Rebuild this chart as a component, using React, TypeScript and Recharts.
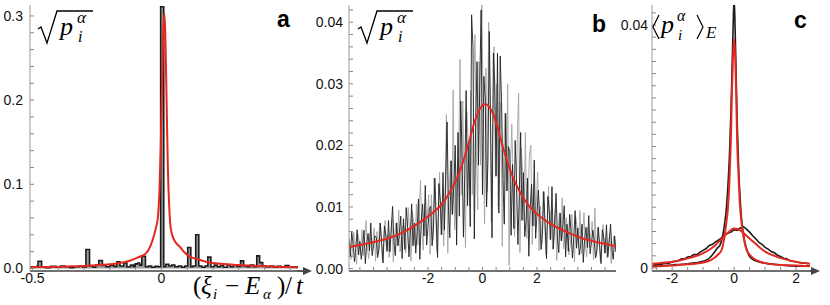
import React from 'react';
import { ComposedChart, Line, Area, XAxis, YAxis } from 'recharts';

// ---- panel a: histogram (step edges) + red fit ----
const A_HIST_X = [
  -0.51, -0.495, -0.483, -0.479, -0.465, -0.45, -0.43, -0.41, -0.39, -0.375, -0.355, -0.34, -0.32, -0.305,
  -0.293, -0.279, -0.265, -0.255, -0.243, -0.229, -0.215, -0.2, -0.185, -0.173, -0.161, -0.146, -0.134,
  -0.12, -0.108, -0.102, -0.092, -0.084, -0.076, -0.062, -0.05, -0.038, -0.025, -0.013, -0.003, 0.009,
  0.017, 0.029, 0.04, 0.052, 0.065, 0.078, 0.09, 0.102, 0.114, 0.122, 0.133, 0.145, 0.157, 0.169, 0.18,
  0.192, 0.205, 0.217, 0.229, 0.241, 0.255, 0.267, 0.28, 0.293, 0.307, 0.319, 0.333, 0.345, 0.358, 0.37,
  0.381, 0.393, 0.405, 0.42, 0.435, 0.45, 0.465, 0.48, 0.495, 0.51, 0.53,
];
const A_HIST_Y = [
  0.002, 0.0015, 0.0025, 0.0085, 0.002, 0.001, 0.0025, 0.0015, 0.003, 0.002, 0.001, 0.002, 0.003, 0.0015,
  0.0225, 0.003, 0.0015, 0.004, 0.0095, 0.0035, 0.002, 0.004, 0.0025, 0.008, 0.003, 0.0065, 0.002,
  0.004, 0.002, 0.0055, 0.0065, 0.004, 0.0145, 0.002, 0.003, 0.0015, 0.0025, 0.002, 0.311, 0.002,
  0.005, 0.003, 0.004, 0.002, 0.003, 0.0015, 0.003, 0.025, 0.002, 0.003, 0.04, 0.003, 0.0015, 0.003, 0.0135,
  0.002, 0.004, 0.002, 0.0035, 0.0015, 0.0045, 0.002, 0.004, 0.0025, 0.009, 0.003, 0.002, 0.004, 0.002, 0.015,
  0.007, 0.003, 0.002, 0.003, 0.0015, 0.0025, 0.002, 0.0035, 0.0015, 0.002, 0.002,
];
const A_FIT_X = [
  -0.51, -0.45, -0.4, -0.35, -0.3, -0.25, -0.2, -0.15, -0.12, -0.1, -0.08, -0.066, -0.05, -0.034, -0.02,
  -0.014, -0.008, -0.003, 0.002, 0.007, 0.011, 0.015, 0.02, 0.025, 0.03, 0.036, 0.045, 0.055, 0.071, 0.09,
  0.11, 0.14, 0.18, 0.23, 0.3, 0.37, 0.45, 0.53,
];
const A_FIT_Y = [
  0.0015, 0.0018, 0.002, 0.0025, 0.003, 0.0038, 0.005, 0.007, 0.0095, 0.012, 0.0145, 0.0166, 0.022, 0.034, 0.05,
  0.06, 0.09, 0.14, 0.21, 0.28, 0.303, 0.28, 0.2, 0.12, 0.075, 0.048, 0.037, 0.031, 0.026, 0.019,
  0.014, 0.011, 0.0075, 0.0055, 0.004, 0.003, 0.002, 0.0015,
];

// ---- panel b: two noisy traces (black, grey) + red fit ----
const B_START = -4.9;
const B_STEP = 0.05;
const B_BLACK = [
  0.0048, 0.0019, 0.0059, 0.0041, 0.0011, 0.0033, 0.0063, 0.0022, 0.0044, 0.0015,
  0.0033, 0.0062, 0.0008, 0.0041, 0.0057, 0.0029, 0.0074, 0.0021, 0.0037, 0.0053,
  0.0051, 0.0018, 0.0032, 0.0074, 0.0041, 0.0009, 0.0069, 0.0055, 0.0028, 0.0078,
  0.0027, 0.0064, 0.0101, 0.0042, 0.0021, 0.0074, 0.0037, 0.0058, 0.0085, 0.0016,
  0.0081, 0.0031, 0.0099, 0.0068, 0.0019, 0.0056, 0.0105, 0.0037, 0.0074, 0.0025,
  0.006, 0.0113, 0.0015, 0.0075, 0.0105, 0.0053, 0.0135, 0.0038, 0.0068, 0.0098,
  0.0101, 0.0037, 0.0064, 0.0147, 0.0083, 0.0018, 0.0138, 0.011, 0.0055, 0.0156,
  0.0063, 0.015, 0.0238, 0.01, 0.005, 0.0175, 0.0088, 0.0138, 0.02, 0.0038,
  0.0221, 0.0085, 0.0272, 0.0187, 0.0051, 0.0153, 0.0289, 0.0102, 0.0204, 0.0068,
  0.0412, 0.036, 0.0048, 0.024, 0.0336, 0.0168, 0.03, 0.042, 0.012, 0.0312,
  0.0275, 0.01, 0.0175, 0.0385, 0.0225, 0.005, 0.035, 0.03, 0.015, 0.035,
  0.009, 0.0345, 0.027, 0.0144, 0.0072, 0.0252, 0.0126, 0.0198, 0.019, 0.0054,
  0.0169, 0.0065, 0.0208, 0.0143, 0.0039, 0.0117, 0.0221, 0.0078, 0.0156, 0.0052,
  0.0078, 0.0147, 0.002, 0.0098, 0.0137, 0.0069, 0.0176, 0.0049, 0.0088, 0.0127,
  0.0086, 0.0031, 0.0055, 0.0125, 0.007, 0.0016, 0.0117, 0.0094, 0.0047, 0.0133,
  0.0032, 0.0077, 0.0122, 0.0051, 0.0026, 0.009, 0.0045, 0.007, 0.0102, 0.0019,
  0.0072, 0.0028, 0.0088, 0.0061, 0.0017, 0.005, 0.0094, 0.0033, 0.0066, 0.0022,
  0.0038, 0.0072, 0.001, 0.0048, 0.0067, 0.0034, 0.0086, 0.0024, 0.0043, 0.0062,
  0.0046, 0.0017, 0.0029, 0.0067, 0.0038, 0.0008, 0.0063, 0.005, 0.0025, 0.0071,
  0.0019, 0.0046, 0.0072, 0.003, 0.0015, 0.0053, 0.0027,
];
const B_GRAY = [
  0.0041, 0.0015, 0.0026, 0.0059, 0.0033, 0.0007, 0.0056, 0.0044, 0.0022, 0.0063,
  0.0021, 0.0049, 0.0078, 0.0033, 0.0016, 0.0057, 0.0029, 0.0045, 0.0066, 0.0012,
  0.006, 0.0023, 0.0074, 0.0051, 0.0014, 0.0041, 0.0078, 0.0028, 0.0055, 0.0018,
  0.0042, 0.008, 0.0011, 0.0053, 0.0074, 0.0037, 0.0095, 0.0027, 0.0048, 0.0069,
  0.0068, 0.0025, 0.0043, 0.0099, 0.0056, 0.0012, 0.0093, 0.0074, 0.0037, 0.0105,
  0.0038, 0.009, 0.0143, 0.006, 0.003, 0.0105, 0.0053, 0.0083, 0.012, 0.0023,
  0.012, 0.0046, 0.0147, 0.0101, 0.0028, 0.0083, 0.0156, 0.0055, 0.011, 0.0037,
  0.01, 0.025, 0.0025, 0.0125, 0.0175, 0.0088, 0.029, 0.0063, 0.0113, 0.0163,
  0.0187, 0.034, 0.0119, 0.0272, 0.0153, 0.0034, 0.0255, 0.0204, 0.0102, 0.0289,
  0.012, 0.0288, 0.038, 0.0192, 0.0096, 0.0336, 0.0168, 0.0428, 0.026, 0.0072,
  0.0325, 0.0125, 0.04, 0.0275, 0.0075, 0.0225, 0.036, 0.015, 0.03, 0.01,
  0.0144, 0.027, 0.0036, 0.018, 0.0252, 0.0126, 0.03, 0.0005, 0.0162, 0.0234,
  0.0143, 0.0052, 0.0091, 0.0208, 0.0285, 0.0026, 0.0195, 0.0156, 0.0078, 0.0221,
  0.0049, 0.0118, 0.0186, 0.02, 0.0039, 0.0137, 0.0069, 0.0108, 0.0157, 0.0029,
  0.0101, 0.0039, 0.0125, 0.0086, 0.0023, 0.007, 0.0133, 0.0047, 0.0094, 0.0031,
  0.0051, 0.0096, 0.0013, 0.0064, 0.009, 0.0045, 0.0115, 0.0032, 0.0058, 0.0083,
  0.0061, 0.0022, 0.0039, 0.0088, 0.005, 0.0011, 0.0083, 0.0066, 0.0033, 0.0094,
  0.0024, 0.0058, 0.0091, 0.0038, 0.0019, 0.0067, 0.0034, 0.0053, 0.0077, 0.0014,
  0.0098, 0.0021, 0.0067, 0.0046, 0.0013, 0.0038, 0.0071, 0.0025, 0.005, 0.0017,
  0.003, 0.0057, 0.0008, 0.0038, 0.0053, 0.0027,
];
const B_FIT_X = [
  -4.9, -4.4, -3.9, -3.4, -2.9, -2.4, -1.9, -1.5, -1.2, -0.9, -0.7, -0.5, -0.3, -0.1, 0.1, 0.3, 0.5, 0.7,
  0.9, 1.1, 1.4, 1.7, 2.1, 2.6, 3.1, 3.6, 4.1, 4.6, 4.9,
];
const B_FIT_Y = [
  0.0035, 0.0039, 0.0044, 0.005, 0.0059, 0.0072, 0.0088, 0.0104, 0.0124, 0.015, 0.0175, 0.0205, 0.0237,
  0.0259, 0.0267, 0.0259, 0.0237, 0.0205, 0.0175, 0.015, 0.0122, 0.0102, 0.0085, 0.007, 0.0059, 0.005,
  0.0044, 0.0039, 0.0036,
];

// ---- panel c: narrow and broad averages, data (black) and fits (red) ----
const C_NARROW_X = [
  -2.65, -2, -1.5, -1, -0.8, -0.65, -0.55, -0.45, -0.35, -0.3, -0.25, -0.2, -0.15, -0.1, -0.06, -0.03, 0,
  0.03, 0.06, 0.1, 0.15, 0.2, 0.25, 0.3, 0.4, 0.5, 0.6, 0.8, 1, 1.5, 2, 2.45,
];
const C_NARROW_DATA = [
  0.0003, 0.0005, 0.0007, 0.0011, 0.0016, 0.0025, 0.0032, 0.0038, 0.0058, 0.0075, 0.0098, 0.0135, 0.0185,
  0.026, 0.034, 0.04, 0.0445, 0.04, 0.033, 0.024, 0.016, 0.011, 0.0075, 0.0055, 0.0032, 0.0019, 0.0014,
  0.001, 0.0008, 0.0005, 0.0003, 0.0003,
];
const C_NARROW_FIT_X = [
  -2.65, -2, -1.5, -1, -0.75, -0.6, -0.5, -0.4, -0.3, -0.25, -0.2, -0.15, -0.1, -0.07, -0.04, 0, 0.04,
  0.07, 0.1, 0.14, 0.18, 0.25, 0.3, 0.4, 0.5, 0.6, 0.75, 1, 1.5, 2, 2.45,
];
const C_NARROW_FIT = [
  0.0002, 0.0004, 0.0006, 0.0009, 0.0013, 0.0018, 0.0023, 0.003, 0.0055, 0.0075, 0.0098, 0.0145, 0.022,
  0.029, 0.034, 0.0377, 0.034, 0.028, 0.0205, 0.0155, 0.011, 0.007, 0.0052, 0.003, 0.0022, 0.0017,
  0.0012, 0.0008, 0.0005, 0.0004, 0.0003,
];
const C_BROAD_START = -2.6;
const C_BROAD_STEP = 0.1;
const C_BROAD_DATA = [
  0.0005, 0.0006, 0.0005, 0.0007, 0.0008, 0.0008, 0.001, 0.0011, 0.0012, 0.0015, 0.0015, 0.0018, 0.0019,
  0.0022, 0.0022, 0.0026, 0.0029, 0.0032, 0.0037, 0.0039, 0.0043, 0.0046, 0.005, 0.0055, 0.0057, 0.0059,
  0.0063, 0.0062, 0.0066, 0.0068, 0.0064, 0.0059, 0.0053, 0.0048, 0.0042, 0.0039, 0.0034, 0.0031, 0.0027,
  0.0025, 0.0021, 0.0019, 0.0016, 0.0015, 0.0012, 0.0011, 0.001, 0.0009, 0.0008, 0.0008, 0.0007,
];
const C_BROAD_FIT_X = [-2.65, -2.2, -1.8, -1.4, -1.1, -0.8, -0.6, -0.4, -0.2, 0, 0.2, 0.4, 0.6, 0.8, 1, 1.3, 1.6, 2, 2.45];
const C_BROAD_FIT = [
  0.0007, 0.0009, 0.0012, 0.0017, 0.0022, 0.003, 0.0038, 0.0048, 0.0058, 0.0065, 0.0062, 0.0053, 0.0044,
  0.0035, 0.0027, 0.002, 0.0015, 0.001, 0.0007,
];

const RED = '#e5281f';
const INK = '#1c1c1c';
const SERIF = '"Liberation Serif", "Times New Roman", serif';
const SANS = '"Liberation Sans", Arial, sans-serif';

const zip = (xs: number[], ys: number[]) => xs.map((x, i) => ({ x, y: ys[i] }));
const grid = (start: number, step: number, ys: number[]) => ys.map((y, i) => ({ x: start + i * step, y }));

type Lab = [number, string][];
const fmt = (labels: Lab) => (v: number) => {
  const hit = labels.find((l) => Math.abs(l[0] - v) < 1e-9);
  return hit ? hit[1] : '';
};

const tickFont = { fill: '#111', fontSize: 14, fontFamily: SANS };

function frame(o: {
  xDomain: number[]; yDomain: number[]; xTicks: number[]; yTicks: number[];
  xLabels: Lab; yLabels: Lab; yWidth: number; yMargin: number;
}) {
  return [
    <XAxis key="xb" type="number" dataKey="x" domain={o.xDomain} allowDataOverflow ticks={o.xTicks} interval={0}
      tickFormatter={fmt(o.xLabels)} tickSize={-4} tickMargin={6} height={34}
      axisLine={{ stroke: '#707070', strokeWidth: 2 }} tickLine={{ stroke: '#888' }} tick={tickFont} />,
    <XAxis key="xt" xAxisId="t" orientation="top" type="number" domain={o.xDomain} allowDataOverflow ticks={o.xTicks}
      interval={0} tickFormatter={() => ''} tickSize={-4} height={0}
      axisLine={{ stroke: '#999' }} tickLine={{ stroke: '#888' }} />,
    <YAxis key="yl" type="number" domain={o.yDomain} allowDataOverflow ticks={o.yTicks} interval={0}
      tickFormatter={fmt(o.yLabels)} tickSize={-4} tickMargin={o.yMargin} width={o.yWidth}
      axisLine={{ stroke: '#999' }} tickLine={{ stroke: '#888' }} tick={tickFont} />,
    <YAxis key="yr" yAxisId="r" orientation="right" type="number" domain={o.yDomain} allowDataOverflow ticks={o.yTicks}
      interval={0} tickFormatter={() => ''} tickSize={-4} width={0}
      axisLine={{ stroke: '#999' }} tickLine={{ stroke: '#888' }} />,
  ];
}

function SqrtP({ dx }: { dx: number }) {
  return (
    <g transform={`translate(${dx},0)`}>
      <path d="M38,29 L41,27 L47,43 L57,11 L93,11" fill="none" stroke="#000" strokeWidth={1.3} />
      <text x={60} y={35} fontSize={26} fontStyle="italic" fontFamily={SERIF}>p</text>
      <text x={77} y={23} fontSize={17} fontStyle="italic" fontFamily={SERIF}>α</text>
      <text x={78} y={42} fontSize={16} fontStyle="italic" fontFamily={SERIF}>i</text>
    </g>
  );
}

// x-axis title of panel a, glyph by glyph
const XTITLE: [string, number, number, number, boolean][] = [
  ['(', 193, 294, 25, false], ['ξ', 201, 294, 25, true], ['i', 213, 299, 15, true], ['−', 225, 294, 25, false],
  ['E', 245, 294, 25, true], ['α', 263, 299, 15, true], [')', 277, 294, 25, false], ['/', 285, 294, 25, false],
  ['t', 296, 294, 25, true],
];

export default function App() {
  return (
    <div style={{ position: 'absolute', left: 0, top: 0, width: 830, height: 305, background: '#fff', overflow: 'hidden' }}>
      <div style={{ position: 'absolute', left: 0, top: 0 }}>
        <ComposedChart width={310} height={305} margin={{ top: 5, right: 12, bottom: 0, left: 0 }}>
          {frame({
            xDomain: [-0.51, 0.53], yDomain: [-0.003, 0.313],
            xTicks: [-0.5, -0.4, -0.3, -0.2, -0.1, 0, 0.1, 0.2, 0.3, 0.4, 0.5],
            yTicks: [0, 0.02, 0.04, 0.06, 0.08, 0.1, 0.12, 0.14, 0.16, 0.18, 0.2, 0.22, 0.24, 0.26, 0.28, 0.3],
            xLabels: [[-0.5, '-0.5'], [0, '0']],
            yLabels: [[0, '0.0'], [0.1, '0.1'], [0.2, '0.2'], [0.3, '0.3']],
            yWidth: 30, yMargin: 11,
          })}
          <Area data={zip(A_HIST_X, A_HIST_Y)} dataKey="y" type="stepAfter" baseValue={0} fill="#9c9c9c" fillOpacity={1}
            stroke={INK} strokeWidth={1.6} isAnimationActive={false} dot={false} />
          <Line data={zip(A_FIT_X, A_FIT_Y)} dataKey="y" type="monotone" stroke={RED} strokeWidth={2}
            dot={false} isAnimationActive={false} />
        </ComposedChart>
      </div>

      <div style={{ position: 'absolute', left: 300, top: 0 }}>
        <ComposedChart width={320} height={305} margin={{ top: 5, right: 4, bottom: 0, left: 0 }}>
          {frame({
            xDomain: [-4.9, 4.9], yDomain: [-0.0004, 0.0428],
            xTicks: [-4.5, -4, -3.5, -3, -2.5, -2, -1.5, -1, -0.5, 0, 0.5, 1, 1.5, 2, 2.5, 3, 3.5, 4, 4.5],
            yTicks: [0, 0.002, 0.004, 0.006, 0.008, 0.01, 0.012, 0.014, 0.016, 0.018, 0.02, 0.022, 0.024, 0.026,
              0.028, 0.03, 0.032, 0.034, 0.036, 0.038, 0.04, 0.042],
            xLabels: [[-2, '-2'], [0, '0'], [2, '2']],
            yLabels: [[0, '0.00'], [0.01, '0.01'], [0.02, '0.02'], [0.03, '0.03'], [0.04, '0.04']],
            yWidth: 49, yMargin: 10,
          })}
          <Line data={grid(B_START + B_STEP / 2, B_STEP, B_GRAY)} dataKey="y" type="linear" stroke="#a4a4a4"
            strokeWidth={0.9} dot={false} isAnimationActive={false} />
          <Line data={grid(B_START, B_STEP, B_BLACK)} dataKey="y" type="linear" stroke="#202020" strokeWidth={0.9}
            dot={false} isAnimationActive={false} />
          <Line data={zip(B_FIT_X, B_FIT_Y)} dataKey="y" type="monotone" stroke={RED} strokeWidth={2}
            dot={false} isAnimationActive={false} />
        </ComposedChart>
      </div>

      <div style={{ position: 'absolute', left: 610, top: 0 }}>
        <ComposedChart width={215} height={305} margin={{ top: 5, right: 15, bottom: 0, left: 0 }}>
          {frame({
            xDomain: [-2.65, 2.45], yDomain: [-0.0005, 0.0433],
            xTicks: [-2.5, -2, -1.5, -1, -0.5, 0, 0.5, 1, 1.5, 2],
            yTicks: [0, 0.002, 0.004, 0.006, 0.008, 0.01, 0.012, 0.014, 0.016, 0.018, 0.02, 0.022, 0.024, 0.026,
              0.028, 0.03, 0.032, 0.034, 0.036, 0.038, 0.04, 0.042],
            xLabels: [[-2, '-2'], [0, '0'], [2, '2']],
            yLabels: [[0, '0'], [0.04, '0.04']],
            yWidth: 42, yMargin: 8,
          })}
          <Line data={grid(C_BROAD_START, C_BROAD_STEP, C_BROAD_DATA)} dataKey="y" type="linear" stroke={INK}
            strokeWidth={1.6} dot={false} isAnimationActive={false} />
          <Line data={zip(C_NARROW_X, C_NARROW_DATA)} dataKey="y" type="monotone" stroke={INK} strokeWidth={1.6}
            dot={false} isAnimationActive={false} />
          <Line data={zip(C_BROAD_FIT_X, C_BROAD_FIT)} dataKey="y" type="monotone" stroke={RED} strokeWidth={2}
            dot={false} isAnimationActive={false} />
          <Line data={zip(C_NARROW_FIT_X, C_NARROW_FIT)} dataKey="y" type="monotone" stroke={RED} strokeWidth={2}
            dot={false} isAnimationActive={false} />
        </ComposedChart>
      </div>

      <svg width={830} height={305} style={{ position: 'absolute', left: 0, top: 0, pointerEvents: 'none' }}>
        <SqrtP dx={0} />
        <SqrtP dx={320} />
        {/* <p_i^alpha>_E */}
        <path d="M659,15 L653,27 L659,39" fill="none" stroke="#000" strokeWidth={1.2} />
        <text x={661} y={33} fontSize={26} fontStyle="italic" fontFamily={SERIF}>p</text>
        <text x={677} y={21} fontSize={16} fontStyle="italic" fontFamily={SERIF}>α</text>
        <text x={678} y={40} fontSize={15} fontStyle="italic" fontFamily={SERIF}>i</text>
        <path d="M697,15 L703,27 L697,39" fill="none" stroke="#000" strokeWidth={1.2} />
        <text x={706} y={38} fontSize={17} fontStyle="italic" fontFamily={SERIF}>E</text>

        <text x={277} y={27} fontSize={23} fontWeight="bold" fontFamily={SANS}>a</text>
        <text x={592} y={32} fontSize={23} fontWeight="bold" fontFamily={SANS}>b</text>
        <text x={794} y={28} fontSize={23} fontWeight="bold" fontFamily={SANS}>c</text>

        {/* axis arrows */}
        <line x1={298} y1={271} x2={306} y2={271} stroke="#555" strokeWidth={2} />
        <path d="M303,267 L312,271 L303,275 Z" fill="#444" />
        <line x1={810} y1={271} x2={814} y2={271} stroke="#555" strokeWidth={2} />
        <path d="M811,267 L820,271 L811,275 Z" fill="#444" />

        {XTITLE.map(([s, x, y, size, it], i) => (
          <text key={i} x={x} y={y} fontSize={size} fontStyle={it ? 'italic' : 'normal'} fontFamily={SERIF}>{s}</text>
        ))}
      </svg>
    </div>
  );
}
